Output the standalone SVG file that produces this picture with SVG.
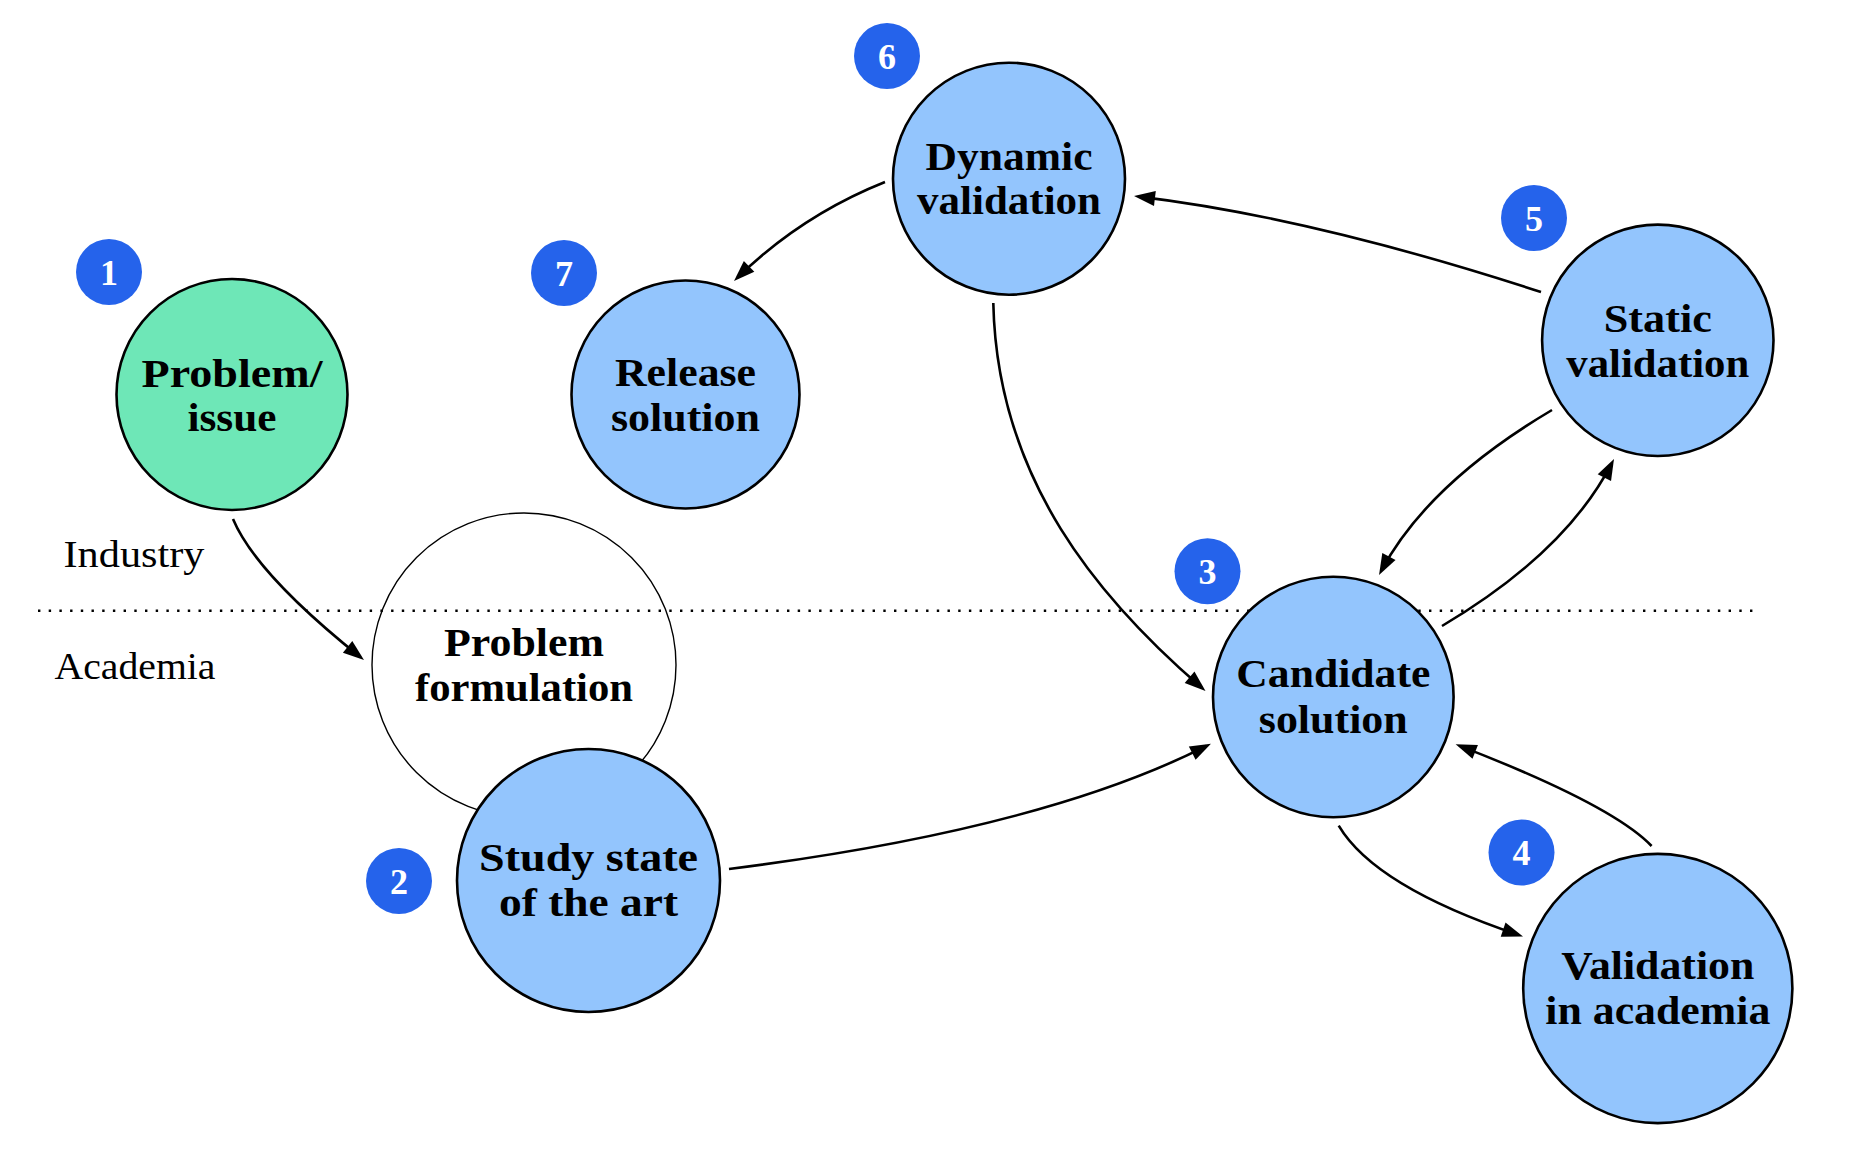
<svg xmlns="http://www.w3.org/2000/svg" width="1863" height="1157" viewBox="0 0 1863 1157">
<style>
.node{stroke:#000;stroke-width:2.6}
.blue{fill:#93C5FD}
.green{fill:#6EE7B7}
.ghost{fill:none;stroke:#000;stroke-width:1.4}
.lbl{font-family:"Liberation Serif","DejaVu Serif",serif;font-weight:bold;font-size:40px;fill:#000;text-anchor:middle}
.zone{font-family:"Liberation Serif","DejaVu Serif",serif;font-size:38px;fill:#000;text-anchor:middle}
.badge circle{fill:#2563EB}
.badge text{font-family:"Liberation Serif","DejaVu Serif",serif;font-weight:bold;font-size:36px;fill:#fff;text-anchor:middle}
.edge{fill:none;stroke:#000;stroke-width:2.6;marker-end:url(#arr)}
.sep{stroke:#000;stroke-width:2.4;stroke-dasharray:2.4 8.3}
</style>
<defs>
<marker id="arr" markerUnits="userSpaceOnUse" viewBox="-24 -10 26 20" markerWidth="26" markerHeight="20" refX="-5" refY="0" orient="auto">
<path d="M0,0 L-21,-7.5 L-21,7.5 Z" fill="#000"/>
</marker>
</defs>
<rect width="1863" height="1157" fill="#fff"/>

<g id="zones">
<line class="sep" x1="38" y1="610.7" x2="1753" y2="610.7"/>
<text class="zone" x="134" y="567" textLength="141" lengthAdjust="spacingAndGlyphs">Industry</text>
<text class="zone" x="135" y="679" textLength="161" lengthAdjust="spacingAndGlyphs">Academia</text>
</g>

<g id="problem-formulation">
<circle class="ghost" cx="524" cy="665" r="152"/>
<text class="lbl" x="524" y="656" textLength="160" lengthAdjust="spacingAndGlyphs">Problem</text>
<text class="lbl" x="524" y="701" textLength="218" lengthAdjust="spacingAndGlyphs">formulation</text>
</g>

<g id="connectors">
<path class="edge" d="M233,519 Q255.9,573.5 360.1,656.9"/>
<path class="edge" d="M885,182 Q801.7,215.2 737.6,277.5"/>
<path class="edge" d="M1541,292 Q1312,217.4 1139,196.6"/>
<path class="edge" d="M1552,410 Q1427.7,483.7 1381.4,570.6"/>
<path class="edge" d="M1442,626 Q1565.6,552.7 1611.7,463.4"/>
<path class="edge" d="M993.3,303 C997,480 1100,600 1201.7,687.7"/>
<path class="edge" d="M729,869 Q1041.3,829.6 1206.5,745.9"/>
<path class="edge" d="M1338.7,825.6 Q1374.8,886.5 1518.3,934.8"/>
<path class="edge" d="M1651.6,846 Q1612.3,805 1460.3,746.1"/>
</g>

<g id="problem-issue">
<circle class="node green" cx="232" cy="394.5" r="115.5"/>
<text class="lbl" x="232" y="386.5" textLength="181" lengthAdjust="spacingAndGlyphs">Problem/</text>
<text class="lbl" x="232" y="431" textLength="89" lengthAdjust="spacingAndGlyphs">issue</text>
</g>

<g id="release-solution">
<circle class="node blue" cx="685.5" cy="394.5" r="114"/>
<text class="lbl" x="685.5" y="386" textLength="141" lengthAdjust="spacingAndGlyphs">Release</text>
<text class="lbl" x="685.5" y="430.5" textLength="149" lengthAdjust="spacingAndGlyphs">solution</text>
</g>

<g id="dynamic-validation">
<circle class="node blue" cx="1009" cy="178.7" r="116"/>
<text class="lbl" x="1009" y="170" textLength="167" lengthAdjust="spacingAndGlyphs">Dynamic</text>
<text class="lbl" x="1009" y="214.3" textLength="184" lengthAdjust="spacingAndGlyphs">validation</text>
</g>

<g id="static-validation">
<circle class="node blue" cx="1657.8" cy="340.3" r="115.7"/>
<text class="lbl" x="1657.8" y="331.7" textLength="108" lengthAdjust="spacingAndGlyphs">Static</text>
<text class="lbl" x="1657.8" y="376.7" textLength="183" lengthAdjust="spacingAndGlyphs">validation</text>
</g>

<g id="candidate-solution">
<circle class="node blue" cx="1333.3" cy="697" r="120.3"/>
<text class="lbl" x="1333.3" y="687.4" textLength="194" lengthAdjust="spacingAndGlyphs">Candidate</text>
<text class="lbl" x="1333.3" y="733" textLength="149" lengthAdjust="spacingAndGlyphs">solution</text>
</g>

<g id="validation-academia">
<circle class="node blue" cx="1657.8" cy="988.5" r="134.6"/>
<text class="lbl" x="1657.8" y="979" textLength="193" lengthAdjust="spacingAndGlyphs">Validation</text>
<text class="lbl" x="1657.8" y="1024" textLength="225" lengthAdjust="spacingAndGlyphs">in academia</text>
</g>

<g id="study-state-of-art">
<circle class="node blue" cx="588.5" cy="880.5" r="131.5"/>
<text class="lbl" x="588.5" y="870.7" textLength="219" lengthAdjust="spacingAndGlyphs">Study state</text>
<text class="lbl" x="588.5" y="916" textLength="179" lengthAdjust="spacingAndGlyphs">of the art</text>
</g>

<g id="badge-1" class="badge"><circle cx="109" cy="272" r="33"/><text x="109" y="284.5">1</text></g>
<g id="badge-2" class="badge"><circle cx="399" cy="881" r="33"/><text x="399" y="893.5">2</text></g>
<g id="badge-3" class="badge"><circle cx="1207.5" cy="571.3" r="33"/><text x="1207.5" y="583.8">3</text></g>
<g id="badge-4" class="badge"><circle cx="1521.5" cy="852.5" r="33"/><text x="1521.5" y="865">4</text></g>
<g id="badge-5" class="badge"><circle cx="1534" cy="218" r="33"/><text x="1534" y="230.5">5</text></g>
<g id="badge-6" class="badge"><circle cx="887" cy="56" r="33"/><text x="887" y="68.5">6</text></g>
<g id="badge-7" class="badge"><circle cx="564" cy="273" r="33"/><text x="564" y="285.5">7</text></g>
</svg>
